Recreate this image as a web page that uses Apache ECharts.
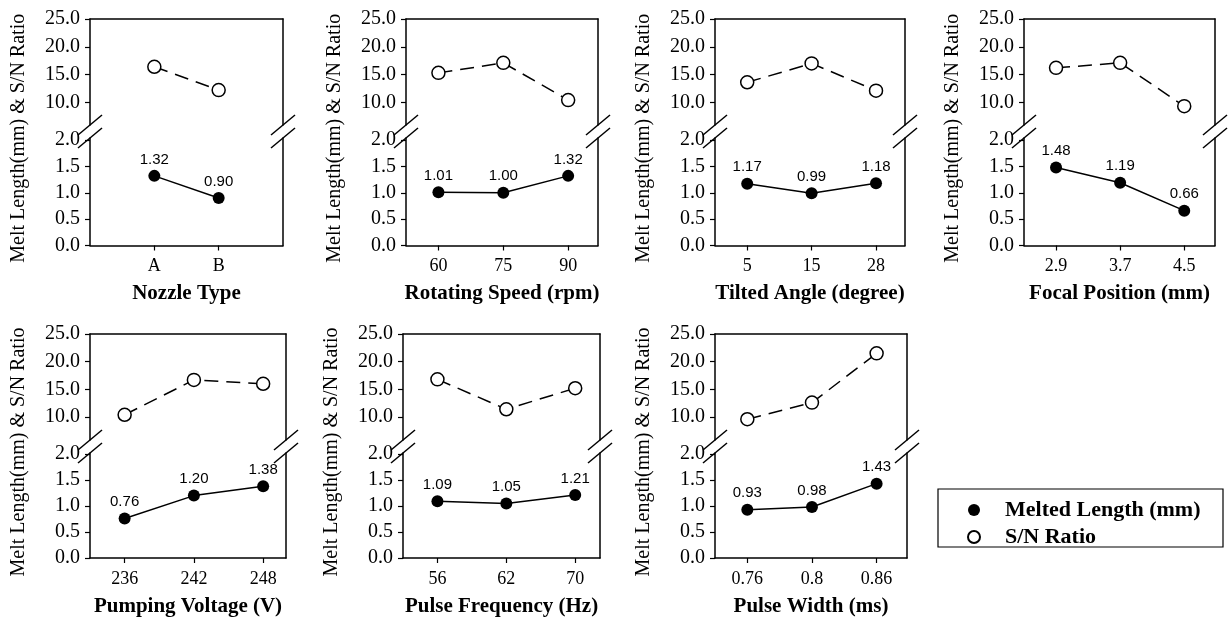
<!DOCTYPE html>
<html>
<head>
<meta charset="utf-8">
<script src="https://cdn.jsdelivr.net/npm/echarts@6/dist/echarts.min.js"></script>
<style>
html, body { margin: 0; padding: 0; background: #fff; }
#main { width: 1228px; height: 621px; }
</style>
</head>
<body>
<div id="main"></div>
<script>
// factor levels (x tick labels)
var nozzleLevels = ['A', 'B'];
var speedLevels = ['60', '75', '90'];
var angleLevels = ['5', '15', '28'];
var focalLevels = ['2.9', '3.7', '4.5'];
var voltageLevels = ['236', '242', '248'];
var freqLevels = ['56', '62', '70'];
var widthLevels = ['0.76', '0.8', '0.86'];

// melted length (mm)
var nozzleMelt = [1.32, 0.90];
var speedMelt = [1.01, 1.00, 1.32];
var angleMelt = [1.17, 0.99, 1.18];
var focalMelt = [1.48, 1.19, 0.66];
var voltageMelt = [0.76, 1.20, 1.38];
var freqMelt = [1.09, 1.05, 1.21];
var widthMelt = [0.93, 0.98, 1.43];

// S/N ratio
var nozzleSN = [16.4, 12.2];
var speedSN = [15.3, 17.1, 10.4];
var angleSN = [13.6, 17.0, 12.1];
var focalSN = [16.2, 17.1, 9.3];
var voltageSN = [10.4, 16.7, 16.0];
var freqSN = [16.8, 11.4, 15.2];
var widthSN = [9.6, 12.6, 21.5];

// y tick labels of the broken axis
var meltTicks = [0, 0.5, 1.0, 1.5, 2.0];
var snTicks = [10, 15, 20, 25];

var meltName = 'Melted Length (mm)';
var snName = 'S/N Ratio';
var yTitle = 'Melt Length(mm) & S/N Ratio';

var panels = [
    {title: 'Nozzle Type', levels: nozzleLevels, melt: nozzleMelt, sn: nozzleSN},
    {title: 'Rotating Speed (rpm)', levels: speedLevels, melt: speedMelt, sn: speedSN},
    {title: 'Tilted Angle (degree)', levels: angleLevels, melt: angleMelt, sn: angleSN},
    {title: 'Focal Position (mm)', levels: focalLevels, melt: focalMelt, sn: focalSN},
    {title: 'Pumping Voltage (V)', levels: voltageLevels, melt: voltageMelt, sn: voltageSN},
    {title: 'Pulse Frequency (Hz)', levels: freqLevels, melt: freqMelt, sn: freqSN},
    {title: 'Pulse Width (ms)', levels: widthLevels, melt: widthMelt, sn: widthSN}
];

// layout of each panel box (pixels) and x range in level index units
var boxes = [
    {row: 0, left: 90, right: 283, xMin: -1, xMax: 2},
    {row: 0, left: 406, right: 598, xMin: -0.5, xMax: 2.46},
    {row: 0, left: 715, right: 905, xMin: -0.5, xMax: 2.45},
    {row: 0, left: 1024, right: 1215, xMin: -0.5, xMax: 2.48},
    {row: 1, left: 90, right: 286, xMin: -0.5, xMax: 2.33},
    {row: 1, left: 403, right: 600, xMin: -0.5, xMax: 2.36},
    {row: 1, left: 715, right: 907, xMin: -0.5, xMax: 2.47}
];
var rows = [
    {y25: 19, y10: 102.3, brk1: 125, brk2: 138, y2: 140, y0: 245.5},
    {y25: 334, y10: 417, brk1: 440, brk2: 453, y2: 454, y0: 558}
];

var serif = '"Liberation Serif", "Times New Roman", serif';
var grids = [], xAxes = [], yAxes = [], series = [], graphics = [];

panels.forEach(function (p, i) {
    var b = boxes[i], r = rows[b.row];
    var w = b.right - b.left;
    var upMin = 25 - 15 * (r.brk1 - r.y25) / (r.y10 - r.y25);
    var lowMax = 2 * (r.y0 - r.brk2) / (r.y0 - r.y2);
    var idx = p.levels.map(function (_, k) { return k; });

    grids.push({left: b.left, top: r.y25, width: w, height: r.brk1 - r.y25});
    grids.push({left: b.left, top: r.brk2, width: w, height: r.y0 - r.brk2});

    xAxes.push({
        type: 'value', gridIndex: 2 * i, position: 'top', min: b.xMin, max: b.xMax,
        axisLine: {show: true, onZero: false, lineStyle: {color: '#000', width: 1.5}},
        axisTick: {show: false}, axisLabel: {show: false}, splitLine: {show: false}
    });
    xAxes.push({
        type: 'value', gridIndex: 2 * i + 1, position: 'bottom', min: b.xMin, max: b.xMax,
        name: p.title, nameLocation: 'middle', nameGap: 38,
        nameTextStyle: {fontFamily: serif, fontWeight: 'bold', fontSize: 21, color: '#000'},
        axisLine: {show: true, onZero: false, lineStyle: {color: '#000', width: 1.5}},
        axisTick: {show: true, customValues: idx, length: 5, lineStyle: {color: '#000', width: 1.2}},
        axisLabel: {
            customValues: idx, margin: 12, fontFamily: serif, fontSize: 18, color: '#000',
            formatter: function (v) { return p.levels[Math.round(v)]; }
        },
        splitLine: {show: false}
    });

    var edge = {show: true, onZero: false, lineStyle: {color: '#000', width: 1.5}};
    yAxes.push({
        type: 'value', gridIndex: 2 * i, position: 'left', min: upMin, max: 25,
        axisLine: edge,
        axisTick: {show: true, customValues: snTicks, length: 5, lineStyle: {color: '#000', width: 1.2}},
        axisLabel: {customValues: snTicks, margin: 10, fontFamily: serif, fontSize: 20, color: '#000',
            formatter: function (v) { return v.toFixed(1); }},
        splitLine: {show: false}
    });
    yAxes.push({
        type: 'value', gridIndex: 2 * i, position: 'right', min: upMin, max: 25,
        axisLine: edge, axisTick: {show: false}, axisLabel: {show: false}, splitLine: {show: false}
    });
    yAxes.push({
        type: 'value', gridIndex: 2 * i + 1, position: 'left', min: 0, max: lowMax,
        axisLine: edge,
        axisTick: {show: true, customValues: meltTicks, length: 5, lineStyle: {color: '#000', width: 1.2}},
        axisLabel: {customValues: meltTicks, margin: 10, fontFamily: serif, fontSize: 20, color: '#000',
            formatter: function (v) { return v.toFixed(1); }},
        splitLine: {show: false}
    });
    yAxes.push({
        type: 'value', gridIndex: 2 * i + 1, position: 'right', min: 0, max: lowMax,
        axisLine: edge, axisTick: {show: false}, axisLabel: {show: false}, splitLine: {show: false}
    });

    series.push({
        name: snName, type: 'line', xAxisIndex: 2 * i, yAxisIndex: 4 * i,
        data: p.sn.map(function (v, k) { return [k, v]; }),
        symbol: 'circle', symbolSize: 13,
        itemStyle: {color: '#fff', borderColor: '#000', borderWidth: 1.5},
        lineStyle: {color: '#000', width: 1.5, type: [14, 8]}
    });
    series.push({
        name: meltName, type: 'line', xAxisIndex: 2 * i + 1, yAxisIndex: 4 * i + 2,
        data: p.melt.map(function (v, k) { return [k, v]; }),
        symbol: 'circle', symbolSize: 12,
        itemStyle: {color: '#000'},
        lineStyle: {color: '#000', width: 1.5},
        label: {
            show: true, position: 'top', distance: 3,
            fontFamily: '"Liberation Sans", Arial, sans-serif', fontSize: 15, color: '#000',
            formatter: function (d) { return d.value[1].toFixed(2); }
        }
    });

    // rotated y axis title
    graphics.push({
        type: 'text', x: b.left - 71, y: (r.y25 + r.y0) / 2 + 6, rotation: Math.PI / 2,
        style: {text: yTitle, fill: '#000', font: '20px ' + serif, align: 'center', verticalAlign: 'middle'}
    });
    // axis break marks
    [b.left, b.right].forEach(function (x) {
        [r.brk1, r.brk2].forEach(function (y) {
            graphics.push({
                type: 'line', shape: {x1: x - 12, y1: y + 10, x2: x + 12, y2: y - 10},
                style: {stroke: '#000', lineWidth: 1.5}
            });
        });
    });
});

// legend frame
graphics.push({
    type: 'rect', shape: {x: 938, y: 489, width: 285, height: 58},
    style: {fill: 'none', stroke: '#000', lineWidth: 1.2}
});

var chart = echarts.init(document.getElementById('main'));
chart.setOption({
    animation: false,
    backgroundColor: '#fff',
    legend: {
        data: [meltName, snName], orient: 'vertical', left: 967, top: 499, padding: 0,
        icon: 'circle', itemWidth: 32, itemHeight: 12, itemGap: 5,
        textStyle: {fontFamily: serif, fontWeight: 'bold', fontSize: 22, color: '#000', padding: [0, 0, 0, 10]}
    },
    grid: grids,
    xAxis: xAxes,
    yAxis: yAxes,
    series: series,
    graphic: graphics
});
</script>
</body>
</html>
